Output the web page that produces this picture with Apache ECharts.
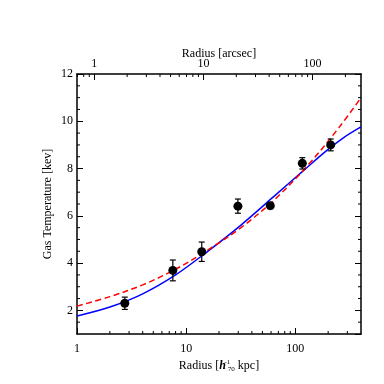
<!DOCTYPE html>
<html>
<head>
<meta charset="utf-8">
<script src="https://cdn.jsdelivr.net/npm/echarts@6/dist/echarts.min.js"></script>
<style>html,body{margin:0;padding:0;background:#fff}#c{width:384px;height:384px}</style>
</head>
<body>
<div id="c"></div>
<script>
// ---- data ----
const radiusKpc   = [2.74, 7.55, 13.9, 29.8, 59, 116, 211];
const temperature = [2.30, 3.69, 4.48, 6.41, 6.43, 8.22, 9.00];
const tempError   = [0.26, 0.44, 0.41, 0.30, 0.13, 0.24, 0.25];

const blueRadius = [1, 2, 4, 8, 16, 32, 63, 126, 200, 282, 400];
const blueTemp   = [1.76, 2.14, 2.70, 3.50, 4.52, 5.62, 6.80, 8.02, 8.81, 9.33, 9.76];

const redRadius = [1, 2, 4, 8, 16, 32, 63, 126, 251, 400];
const redTemp   = [2.18, 2.58, 3.08, 3.74, 4.57, 5.51, 6.64, 8.06, 9.73, 11.0];

const kpcMin = 1, kpcMax = 400;
const kpcPerArcsec = 1.44;
const tempMin = 1, tempMax = 12;

const kpcMinorTicks = [2,3,4,5,6,7,8,9,20,30,40,50,60,70,80,90,200,300];
const arcsecMinorTicks = [0.7,0.8,0.9,2,3,4,5,6,7,8,9,20,30,40,50,60,70,80,90,200];
const tempMinorTicks = [1.5,2.5,3,3.5,4.5,5,5.5,6.5,7,7.5,8.5,9,9.5,10.5,11,11.5];

// ---- chart ----
const FONT = 'Liberation Serif';
const chart = echarts.init(document.getElementById('c'), null, {renderer: 'canvas'});

const axisCommon = {
  axisLine: {show: true, lineStyle: {color: '#000', width: 1.5}},
  axisTick: {show: true, inside: true, length: 6, lineStyle: {color: '#000', width: 1}},
  splitLine: {show: false},
  nameMoveOverlap: false,
  nameTextStyle: {fontFamily: FONT, fontSize: 12, color: '#000'}
};
const labelCommon = {color: '#000', fontFamily: FONT, fontSize: 12};

function minorTickSeries(values, side, xAxisIndex) {
  const data = values.map(v => side === 'x' ? [v, tempMin] : [kpcMin, v]);
  return {
    type: 'custom', xAxisIndex: xAxisIndex, yAxisIndex: 0, silent: true, clip: false, z: 5,
    data: data,
    renderItem: function (params, api) {
      const cs = params.coordSys;
      const p = api.coord([api.value(0), api.value(1)]);
      const st = {stroke: '#000', lineWidth: 1};
      const len = 3;
      if (side === 'x') {
        const yEdge = xAxisIndex === 0 ? cs.y + cs.height : cs.y;
        const dir = xAxisIndex === 0 ? -1 : 1;
        return {type: 'line', shape: {x1: p[0], y1: yEdge, x2: p[0], y2: yEdge + dir * len}, style: st};
      }
      return {type: 'group', children: [
        {type: 'line', shape: {x1: cs.x, y1: p[1], x2: cs.x + len, y2: p[1]}, style: st},
        {type: 'line', shape: {x1: cs.x + cs.width, y1: p[1], x2: cs.x + cs.width - len, y2: p[1]}, style: st}
      ]};
    }
  };
}

const option = {
  animation: false,
  backgroundColor: '#fff',
  grid: {left: 77, right: 23, top: 74, bottom: 50},
  xAxis: [
    Object.assign({}, axisCommon, {
      type: 'log', logBase: 10, min: kpcMin, max: kpcMax, position: 'bottom',
      axisLabel: Object.assign({margin: 9, showMaxLabel: false}, labelCommon),
      name: 'Radius [{h|h}{sup|-1}{sub|70} kpc]', nameLocation: 'middle', nameGap: 25,
      nameTextStyle: {fontFamily: FONT, fontSize: 12, color: '#000', lineHeight: 14,
        rich: {
          h: {fontFamily: FONT, fontSize: 12, fontStyle: 'italic', fontWeight: 'bold', color: '#000', lineHeight: 14},
          sup: {fontFamily: FONT, fontSize: 7, color: '#000', verticalAlign: 'top', lineHeight: 14, width: 1, padding: [0, 0, 0, 1]},
          sub: {fontFamily: FONT, fontSize: 7, color: '#000', verticalAlign: 'bottom', lineHeight: 14}
        }}
    }),
    Object.assign({}, axisCommon, {
      type: 'log', logBase: 10, min: kpcMin / kpcPerArcsec, max: kpcMax / kpcPerArcsec, position: 'top',
      axisLabel: Object.assign({margin: 4, showMinLabel: false, showMaxLabel: false}, labelCommon),
      name: 'Radius [arcsec]', nameLocation: 'middle', nameGap: 14
    })
  ],
  yAxis: [
    Object.assign({}, axisCommon, {
      type: 'value', min: tempMin, max: tempMax, position: 'left',
      axisLabel: Object.assign({margin: 4, showMinLabel: false}, labelCommon),
      name: 'Gas Temperature [kev]', nameLocation: 'middle', nameGap: 23
    }),
    Object.assign({}, axisCommon, {
      type: 'value', min: tempMin, max: tempMax, position: 'right',
      axisLabel: {show: false}
    })
  ],
  series: [
    minorTickSeries(kpcMinorTicks, 'x', 0),
    minorTickSeries(arcsecMinorTicks, 'x', 1),
    minorTickSeries(tempMinorTicks, 'y', 0),
    {
      type: 'line', xAxisIndex: 0, yAxisIndex: 0, showSymbol: false, smooth: 0.35, z: 3,
      data: blueRadius.map((r, i) => [r, blueTemp[i]]),
      lineStyle: {color: '#0000ff', width: 1.5}
    },
    {
      type: 'line', xAxisIndex: 0, yAxisIndex: 0, showSymbol: false, smooth: 0.35, z: 4,
      data: redRadius.map((r, i) => [r, redTemp[i]]),
      lineStyle: {color: '#ff0000', width: 1.5, type: [6, 3.5]}
    },
    {
      type: 'custom', xAxisIndex: 0, yAxisIndex: 0, z: 6,
      data: radiusKpc.map((r, i) => [r, temperature[i], tempError[i]]),
      renderItem: function (params, api) {
        const x = api.value(0), y = api.value(1), e = api.value(2);
        const t = api.coord([x, y + e]), b = api.coord([x, y - e]);
        const w = 3, st = {stroke: '#000', lineWidth: 1.2};
        return {type: 'group', children: [
          {type: 'line', shape: {x1: t[0], y1: t[1], x2: b[0], y2: b[1]}, style: st},
          {type: 'line', shape: {x1: t[0] - w, y1: t[1], x2: t[0] + w, y2: t[1]}, style: st},
          {type: 'line', shape: {x1: b[0] - w, y1: b[1], x2: b[0] + w, y2: b[1]}, style: st}
        ]};
      }
    },
    {
      type: 'scatter', xAxisIndex: 0, yAxisIndex: 0, z: 7,
      symbol: 'circle', symbolSize: 9,
      itemStyle: {color: '#000', opacity: 1},
      data: radiusKpc.map((r, i) => [r, temperature[i]])
    }
  ]
};
chart.setOption(option);
</script>
</body>
</html>
